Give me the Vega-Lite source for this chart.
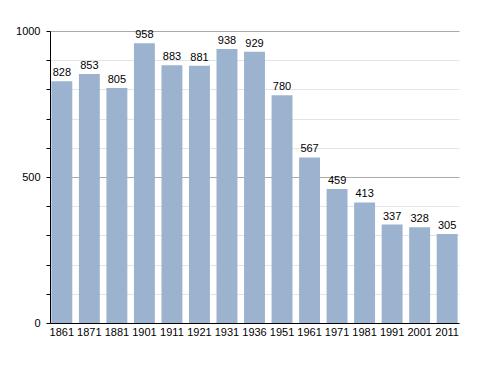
{
  "$schema": "https://vega.github.io/schema/vega-lite/v6.json",
  "autosize": "none",
  "width": 409,
  "height": 292,
  "padding": {"left": 50, "top": 31, "right": 29, "bottom": 50},
  "background": "white",
  "config": {
    "view": {"stroke": null},
    "font": "Liberation Sans"
  },
  "data": {
    "values": [
      {"year": "1861", "pop": 828},
      {"year": "1871", "pop": 853},
      {"year": "1881", "pop": 805},
      {"year": "1901", "pop": 958},
      {"year": "1911", "pop": 883},
      {"year": "1921", "pop": 881},
      {"year": "1931", "pop": 938},
      {"year": "1936", "pop": 929},
      {"year": "1951", "pop": 780},
      {"year": "1961", "pop": 567},
      {"year": "1971", "pop": 459},
      {"year": "1981", "pop": 413},
      {"year": "1991", "pop": 337},
      {"year": "2001", "pop": 328},
      {"year": "2011", "pop": 305}
    ]
  },
  "encoding": {
    "x": {
      "field": "year", "type": "ordinal", "sort": null,
      "scale": {"paddingInner": 0.24, "paddingOuter": 0.05},
      "axis": {"title": null, "labelAngle": 0, "ticks": false, "domainColor": "#000", "labelColor": "#000", "labelFontSize": 11, "labelPadding": 3, "labelFont": "Liberation Sans"}
    },
    "y": {
      "field": "pop", "type": "quantitative",
      "scale": {"domain": [0, 1000], "nice": false},
      "axis": {
        "title": null,
        "format": "d",
        "values": [0, 100, 200, 300, 400, 500, 600, 700, 800, 900, 1000],
        "labelExpr": "datum.value % 500 === 0 ? datum.label : ''",
        "domainColor": "#000", "tickColor": "#000", "tickSize": 4,
        "labelColor": "#000", "labelFontSize": 11, "labelPadding": 6, "labelFont": "Liberation Sans",
        "grid": true,
        "gridColor": {"condition": {"test": "datum.value % 500 === 0", "value": "#aaaaaa"}, "value": "#e4e4e4"}
      }
    }
  },
  "layer": [
    {"mark": {"type": "bar", "color": "#9bb3cf"}},
    {"mark": {"type": "text", "baseline": "bottom", "dy": -3, "fontSize": 11, "color": "#000", "font": "Liberation Sans"},
     "encoding": {"text": {"field": "pop", "type": "quantitative"}}}
  ]
}
